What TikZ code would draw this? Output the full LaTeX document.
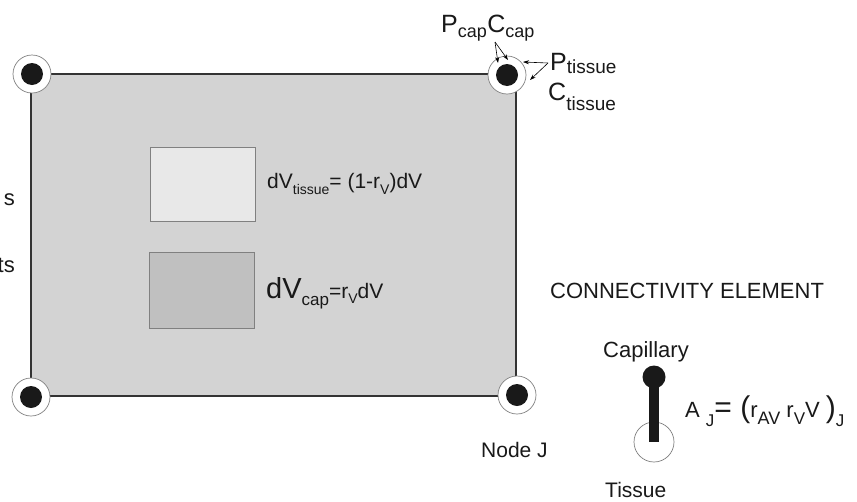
\documentclass[tikz,border=0pt]{standalone}
\usepackage{xcolor}
\usepackage{fontspec}
\setmainfont{Liberation Sans}
\usepackage{tikz}
\usetikzlibrary{arrows.meta,positioning}

\definecolor{cellgray}{HTML}{D3D3D3}
\definecolor{tissuegray}{HTML}{E8E8E8}
\definecolor{capgray}{HTML}{C0C0C0}
\definecolor{edgegray}{HTML}{808080}
\definecolor{linegray}{HTML}{333333}

% lowered, smaller text for subscripts
\newcommand{\lowsub}[3]{\raisebox{-#1}{\fontsize{#2}{#2}\selectfont #3}}
\newcommand{\fs}[1]{\fontsize{#1}{#1}\selectfont}

\begin{document}
\begin{tikzpicture}[
        x=1pt, y=-1pt,
        >={Stealth[length=6pt,width=4pt]},
        cell/.style={rectangle, draw=linegray, line width=1.6pt, fill=cellgray, minimum width=485pt, minimum height=322pt, inner sep=0pt},
        volbox/.style={rectangle, draw=edgegray, line width=0.9pt, minimum width=105pt, inner sep=0pt},
        hole/.style={circle, draw=edgegray, line width=0.7pt, fill=white, minimum size=38pt, inner sep=0pt},
        dot/.style={circle, fill=black!90, minimum size=22pt, inner sep=0pt},
        lbl/.style={anchor=base west, inner sep=0pt, text=black!90},
        arrow/.style={->, line width=0.6pt}
    ]
        \useasboundingbox[fill=white] (0,0) rectangle (857,501);

        % control volume
        \node[cell] (cell) at (273.5,235) {};
        \node[volbox, fill=tissuegray, minimum height=74pt] (tisbox) at (202.5,184) {};
        \node[volbox, fill=capgray, minimum height=76pt] (capbox) at (201.5,290) {};

        % nodes at the corners
        \node[hole] (tl) at (32,74) {};
        \node[hole] (tr) at (507,75) {};
        \node[hole] (bl) at (31,397) {};
        \node[hole] (br) at (517,395) {};
        \foreach \c in {tl,tr,bl,br}
            \node[dot] (\c dot) at (\c) {};

        \node[lbl, anchor=base east] (cutone) at (15,205) {\fs{22}s};
        \node[lbl, anchor=base east] (cuttwo) at (15,272) {\fs{22}ts};

        \node[lbl] (tiseq) at (267,188) {\fs{21}dV\lowsub{6pt}{14}{tissue}= (1-r\lowsub{6pt}{14}{V})dV};
        \node[lbl] (capeq) at (266,298) {\fs{29}dV\lowsub{7pt}{17}{cap}\fs{21}=r\lowsub{5pt}{14}{V}dV};

        \node[lbl] (nodej) at (481,457) {\fs{21}Node J};

        % variables at a node
        \node[lbl] (pcap) at (441,32) {\fs{25}P\lowsub{5pt}{18}{cap}};
        \node[lbl] (ccap) at (pcap.base east) {\fs{25}C\lowsub{5pt}{18}{cap}};
        \node[lbl] (ptis) at (550,70) {\fs{25}P\lowsub{3pt}{19}{tissue}};
        \node[lbl] (ctis) at (548,100) {\fs{25}C\lowsub{10pt}{19}{tissue}};

        \coordinate (capfork) at (495,42);
        \coordinate (tisfork) at (548,63);
        \coordinate (pcapend) at (498,63);
        \coordinate (ccapend) at (508,60);
        \coordinate (ptisend) at (523,62);
        \coordinate (ctisend) at (530,80);
        \draw[arrow] (capfork) -- (pcapend);
        \draw[arrow] (capfork) -- (ccapend);
        \draw[arrow] (tisfork) -- (ptisend);
        \draw[arrow] (tisfork) -- (ctisend);

        % connectivity element
        \node[lbl] (conntitle) at (550,298) {\fs{22}CONNECTIVITY ELEMENT};
        \node[lbl] (caplbl) at (603,357) {\fs{22}Capillary};
        \node[lbl] (tislbl) at (605,497) {\fs{21}Tissue};
        \node[circle, draw=edgegray, line width=0.7pt, minimum size=40pt, inner sep=0pt] (tisend) at (654,442) {};
        \node[dot, minimum size=23pt] (capend) at (654,377) {};
        \draw[line width=10pt, black!90] (capend.center) -- (tisend.center);
        \node[lbl] (areaeq) at (685,417) {\fs{22}A \lowsub{9pt}{17}{J}\fs{30}= (\fs{22}r\lowsub{7pt}{18}{AV} r\lowsub{7pt}{17}{V}V \fs{30})\lowsub{9pt}{17}{J}};
    \end{tikzpicture}
\end{document}
